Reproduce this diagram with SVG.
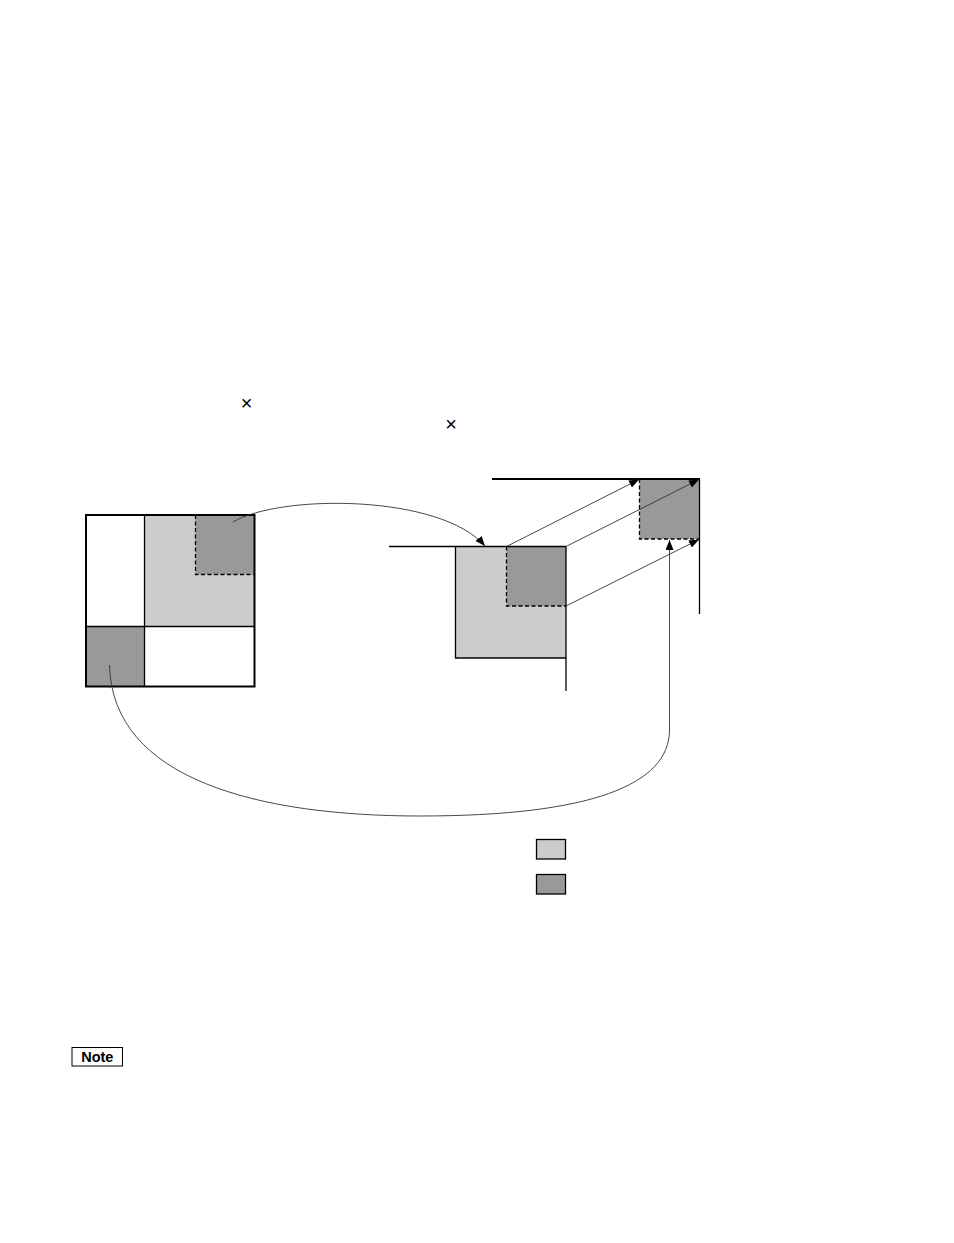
<svg xmlns="http://www.w3.org/2000/svg" width="954" height="1243" viewBox="0 0 954 1243">
<style>
.light{fill:#cccccc}
.dark{fill:#999999}
.edge{stroke:#000;stroke-width:1.3;fill:none}
.thick{stroke:#000;stroke-width:2;fill:none}
.dash{stroke:#000;stroke-width:1.3;fill:none;stroke-dasharray:4,2.5}
.conn{stroke:#333;stroke-width:0.9;fill:none}
.mark{font-family:"Liberation Sans",Arial,sans-serif;font-size:20px;fill:#000}
.note{font-family:"Liberation Sans",Arial,sans-serif;font-size:14.5px;font-weight:bold;fill:#000}
</style>
<defs>
<marker id="arr" viewBox="0 0 10 8" refX="10" refY="4" markerWidth="10" markerHeight="8" markerUnits="userSpaceOnUse" orient="auto">
<path d="M0,0 L10,4 L0,8 Z" fill="#000"/>
</marker>
</defs>
<rect width="954" height="1243" fill="#fff"/>

<g id="times-marks">
<text class="mark" x="246.5" y="409.5" text-anchor="middle">×</text>
<text class="mark" x="451" y="431" text-anchor="middle">×</text>
</g>

<g id="matrix">
<rect class="light" x="144.5" y="515" width="110" height="111.5"/>
<rect class="dark" x="195.5" y="515" width="59" height="59.5"/>
<rect class="dark" x="86" y="626.5" width="58.5" height="60"/>
<path class="dash" d="M195.5,515 V574.5 H254.5"/>
<line class="edge" x1="144.5" y1="515" x2="144.5" y2="686.5"/>
<line class="edge" x1="86" y1="626.5" x2="254.5" y2="626.5"/>
<rect class="thick" x="86" y="515" width="168.5" height="171.5"/>
</g>

<g id="middle-block">
<rect class="light" x="455.5" y="546.5" width="110.5" height="111.5"/>
<rect class="dark" x="506.5" y="546.5" width="59.5" height="59.5"/>
<path class="dash" d="M506.5,546.5 V606 H566"/>
<path class="edge" d="M455.5,546.5 V658 H566"/>
<line class="edge" x1="389" y1="546.5" x2="566" y2="546.5"/>
<line class="edge" x1="566" y1="546.5" x2="566" y2="691"/>
</g>

<g id="right-block">
<rect class="dark" x="639.5" y="479" width="60" height="60"/>
<path class="dash" d="M639.5,479 V539 H699.5"/>
<line class="thick" x1="492" y1="479" x2="700" y2="479"/>
<line class="edge" x1="699.5" y1="479" x2="699.5" y2="614"/>
</g>

<g id="legend">
<rect class="light" x="536.5" y="839.5" width="29" height="19.5" stroke="#000" stroke-width="1.3"/>
<rect class="dark" x="536.5" y="874.5" width="29" height="19.5" stroke="#000" stroke-width="1.3"/>
</g>

<g id="note">
<rect x="72" y="1047.5" width="50.5" height="18.5" fill="#fff" stroke="#000" stroke-width="1"/>
<text class="note" x="97.3" y="1062" text-anchor="middle">Note</text>
</g>

<g id="connectors">
<path class="conn" d="M233,522 C280,494 440,494 485,546" marker-end="url(#arr)"/>
<line class="conn" x1="506.5" y1="546.5" x2="639" y2="479.5" marker-end="url(#arr)"/>
<line class="conn" x1="566" y1="546.5" x2="699" y2="479.5" marker-end="url(#arr)"/>
<line class="conn" x1="566" y1="606" x2="699" y2="539.5" marker-end="url(#arr)"/>
<path class="conn" d="M109.5,665 C112,780 260,816 420,816 C590,816 669.5,785 669.5,730 L669.5,540" marker-end="url(#arr)"/>
</g>
</svg>
